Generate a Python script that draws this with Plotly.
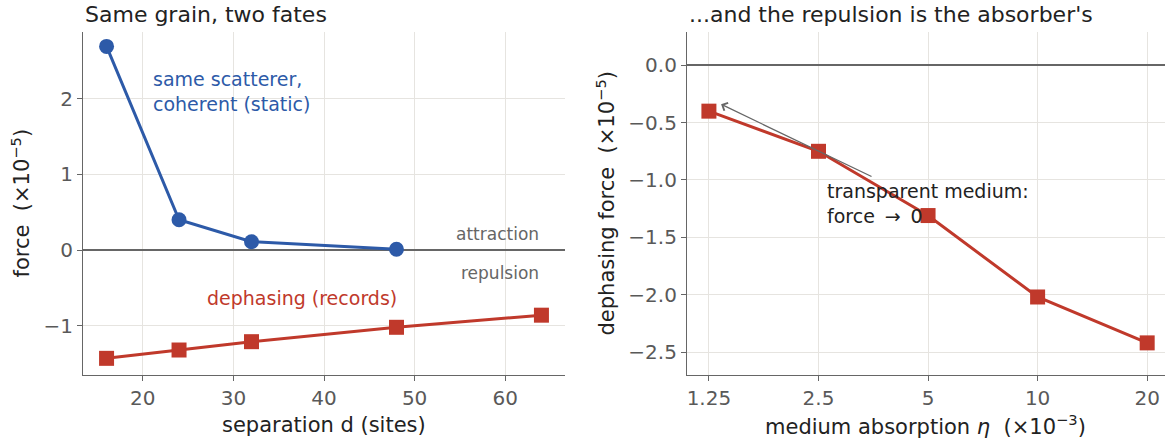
import math
import plotly.graph_objects as go

# ---- data ----
sep_coherent = [16, 24, 32, 48]
force_coherent = [2.69, 0.40, 0.11, 0.01]
sep_dephasing = [16, 24, 32, 48, 64]
force_dephasing = [-1.43, -1.32, -1.21, -1.02, -0.86]

eta = [1.25, 2.5, 5, 10, 20]
eta_labels = ["1.25", "2.5", "5", "10", "20"]
force_eta = [-0.40, -0.75, -1.31, -2.02, -2.42]

left_yticks = [-1, 0, 1, 2]
left_yticklabels = ["\u22121", "0", "1", "2"]
left_xticks = [20, 30, 40, 50, 60]
right_yticks = [0.0, -0.5, -1.0, -1.5, -2.0, -2.5]
right_yticklabels = ["0.0", "\u22120.5", "\u22121.0", "\u22121.5", "\u22122.0", "\u22122.5"]

BLUE = "#2d5aa8"
RED = "#c0392b"
GRID = "#e6e4e0"
SPINE = "#666666"
TICKC = "#595959"
TXT = "#222222"
FONT = "DejaVu Sans"

W, H = 1171, 444
L1, R1 = 83 / W, 565 / W
L2, R2 = 687 / W, 1165 / W
B, T = 1 - 375 / H, 1 - 32 / H

fig = go.Figure()
fig.add_trace(go.Scatter(x=sep_coherent, y=force_coherent, mode="lines+markers",
                         line=dict(color=BLUE, width=3),
                         marker=dict(symbol="circle", size=15, color=BLUE),
                         xaxis="x", yaxis="y", showlegend=False))
fig.add_trace(go.Scatter(x=sep_dephasing, y=force_dephasing, mode="lines+markers",
                         line=dict(color=RED, width=3),
                         marker=dict(symbol="square", size=15, color=RED),
                         xaxis="x", yaxis="y", showlegend=False))
fig.add_trace(go.Scatter(x=eta, y=force_eta, mode="lines+markers",
                         line=dict(color=RED, width=3),
                         marker=dict(symbol="square", size=15, color=RED),
                         xaxis="x2", yaxis="y2", showlegend=False))

common = dict(showgrid=True, gridcolor=GRID, gridwidth=1, showline=True,
              linecolor=SPINE, linewidth=1.2, ticks="outside", ticklen=5,
              tickcolor=SPINE, tickfont=dict(family=FONT, size=20, color=TICKC),
              mirror=False, automargin=False)

fig.update_layout(
    template="none",
    width=W, height=H,
    margin=dict(l=0, r=0, t=0, b=0),
    paper_bgcolor="white", plot_bgcolor="white",
    font=dict(family=FONT, color=TXT),
    xaxis=dict(domain=[L1, R1], range=[13.4, 66.6], tickvals=left_xticks,
               zeroline=False, anchor="y", **common),
    yaxis=dict(domain=[B, T], range=[-1.65, 2.88], tickvals=left_yticks,
               ticktext=left_yticklabels, zeroline=True, zerolinecolor=SPINE,
               zerolinewidth=1.5, anchor="x", **common),
    xaxis2=dict(domain=[L2, R2], type="log", range=[0.0367, 1.350],
                tickvals=eta, ticktext=eta_labels, anchor="y2", zeroline=False, **common),
    yaxis2=dict(domain=[B, T], range=[-2.70, 0.29], tickvals=right_yticks,
                ticktext=right_yticklabels, zeroline=True, zerolinecolor=SPINE,
                zerolinewidth=1.5, anchor="x2", **common),
)

ann = []
# titles
ann.append(dict(text="Same grain, two fates", xref="paper", yref="paper", x=L1, y=1 - 14 / H,
                xanchor="left", yanchor="middle", showarrow=False, font=dict(size=22, color=TXT)))
ann.append(dict(text="...and the repulsion is the absorber's", xref="paper", yref="paper", x=L2,
                y=1 - 14 / H, xanchor="left", yanchor="middle", showarrow=False,
                font=dict(size=22, color=TXT)))
# axis titles
ann.append(dict(text="separation d (sites)", xref="paper", yref="paper", x=(L1 + R1) / 2,
                y=1 - 425 / H, xanchor="center", yanchor="middle", showarrow=False,
                font=dict(size=21, color=TXT)))
ann.append(dict(text="medium absorption <i>\u03b7</i>  (\u00d710<sup>\u22123</sup>)", xref="paper",
                yref="paper", x=(L2 + R2) / 2, y=1 - 425 / H, xanchor="center", yanchor="middle",
                showarrow=False, font=dict(size=21, color=TXT)))
ann.append(dict(text="force  (\u00d710<sup>\u22125</sup>)", xref="paper", yref="paper", x=20 / W,
                y=(B + T) / 2, xanchor="center", yanchor="middle", textangle=-90,
                showarrow=False, font=dict(size=21, color=TXT)))
ann.append(dict(text="dephasing force  (\u00d710<sup>\u22125</sup>)", xref="paper", yref="paper",
                x=605 / W, y=(B + T) / 2, xanchor="center", yanchor="middle", textangle=-90,
                showarrow=False, font=dict(size=21, color=TXT)))
# left panel labels
ann.append(dict(text="same scatterer,<br>coherent (static)", x=20.9, y=2.10, xref="x", yref="y",
                xanchor="left", yanchor="middle", align="left", showarrow=False,
                font=dict(size=19, color=BLUE)))
ann.append(dict(text="dephasing (records)", x=37.6, y=-0.63, xref="x", yref="y",
                xanchor="center", yanchor="middle", showarrow=False, font=dict(size=19, color=RED)))
ann.append(dict(text="attraction", x=64.0, y=0.21, xref="x", yref="y", xanchor="right",
                yanchor="middle", showarrow=False, font=dict(size=17, color="#666666")))
ann.append(dict(text="repulsion", x=64.0, y=-0.30, xref="x", yref="y", xanchor="right",
                yanchor="middle", showarrow=False, font=dict(size=17, color="#666666")))
# right panel arrow + text
ann.append(dict(text="", x=math.log10(1.35), y=-0.34, xref="x2", yref="y2",
                ax=math.log10(3.53), ay=-0.976, axref="x2", ayref="y2",
                showarrow=True, arrowhead=4, arrowsize=1.3, arrowwidth=1.3, arrowcolor="#666666"))
ann.append(dict(text="transparent medium:<br>force \u2009\u2192\u2009 0", x=math.log10(2.6), y=-0.98,
                xref="x2", yref="y2", xanchor="left", yanchor="top", align="left",
                showarrow=False, font=dict(size=19, color=TXT)))
fig.update_layout(annotations=ann)

fig.write_html("out.html", config={"displayModeBar": False},
               post_script="document.body.style.margin='0';document.body.style.overflow='hidden';")
